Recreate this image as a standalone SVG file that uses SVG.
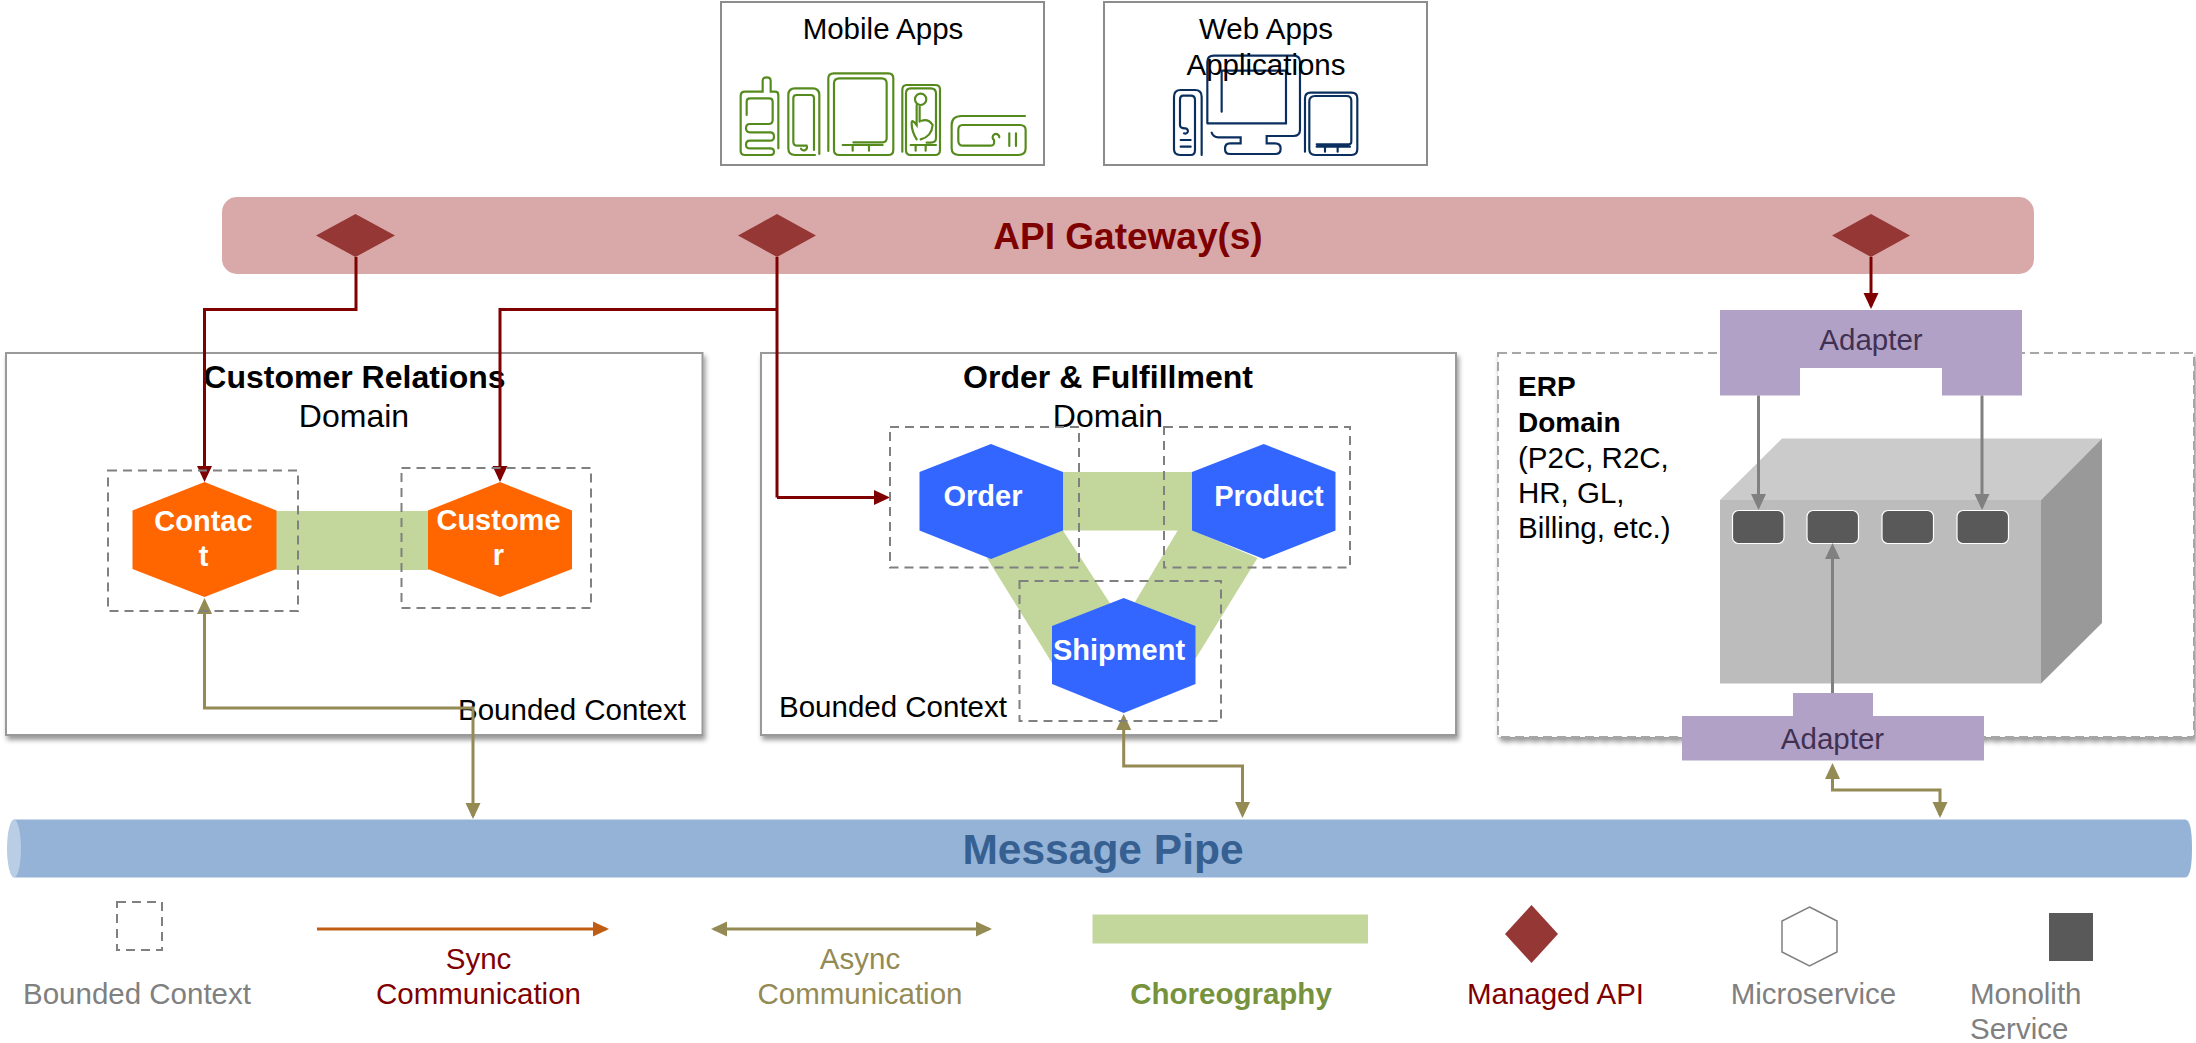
<svg xmlns="http://www.w3.org/2000/svg" width="2196" height="1043" viewBox="0 0 2196 1043">
<style>
text{font-family:"Liberation Sans",Arial,sans-serif;font-size:29.500px;fill:#000}
.m{text-anchor:middle}
.b{font-weight:bold}
.t{font-size:32px}
.e{font-size:28px;font-weight:bold}
.w{fill:#fff;font-weight:bold;text-anchor:middle;font-size:29px}
.g{fill:#808080}
.dom{fill:#fff;stroke:#999;stroke-width:2;filter:url(#sh)}
.app{fill:#fff;stroke:#8c8c8c;stroke-width:2}
.dash{fill:none;stroke:#808080;stroke-width:2;stroke-dasharray:9 6}
.o{fill:#ff6600}.bl{fill:#3366ff}.ch{fill:#c3d69b}.dia{fill:#953735}.ad{fill:#b2a1c7}
.adt{fill:#403152;text-anchor:middle}
.red{fill:none;stroke:#7f0000;stroke-width:3;marker-end:url(#ar)}
.red0{fill:none;stroke:#7f0000;stroke-width:3}
.ol{fill:none;stroke:#948a54;stroke-width:3;marker-end:url(#ao);marker-start:url(#ao)}
.gr{fill:none;stroke:#808080;stroke-width:3;marker-end:url(#ag)}
.port{fill:#595959;stroke:#fff;stroke-width:1.200}
.ig{fill:none;stroke:#558a1c;stroke-width:6.500;stroke-linecap:round}
.ib{fill:none;stroke:#0a2f5f;stroke-width:6.500;stroke-linecap:round}
</style>
<defs>
<filter id="sh" x="-3%" y="-3%" width="106%" height="106%"><feDropShadow dx="2" dy="4" stdDeviation="2.500" flood-color="#000" flood-opacity="0.4"/></filter>
<marker id="ar" markerUnits="userSpaceOnUse" markerWidth="17" markerHeight="16" refX="13" refY="8" orient="auto"><path d="M0 0.500L16 8L0 15.500z" fill="#7f0000"/></marker>
<marker id="ao" markerUnits="userSpaceOnUse" markerWidth="17" markerHeight="16" refX="13" refY="8" orient="auto-start-reverse"><path d="M0 0.500L16 8L0 15.500z" fill="#948a54"/></marker>
<marker id="ag" markerUnits="userSpaceOnUse" markerWidth="17" markerHeight="16" refX="13" refY="8" orient="auto"><path d="M0 0.500L16 8L0 15.500z" fill="#808080"/></marker>
<marker id="as" markerUnits="userSpaceOnUse" markerWidth="17" markerHeight="16" refX="13" refY="8" orient="auto"><path d="M0 0.500L16 8L0 15.500z" fill="#bf5e12"/></marker>
</defs>

<g id="mobile-apps">
<rect class="app" x="721" y="2" width="323" height="163"/>
<text class="m" x="883" y="39">Mobile Apps</text>
<g transform="translate(720 50) scale(.3333)" class="ig">
<path d="M175 295L175 135Q175 125 165 125L152 125L152 92Q152 82 140 82Q128 82 128 92L128 125L75 125Q62 125 62 138L62 303Q62 315 75 315L150 315Q162 315 162 305Q162 295 150 295L90 295Q78 295 78 284Q78 272 90 272L150 272Q162 272 162 260Q162 247 150 247L90 247Q78 247 78 235Q78 222 90 222L146 222Q158 222 158 210L158 155Q158 145 148 145L90 145Q80 145 80 155L80 195"/>
<path d="M298 312L298 135Q298 115 278 115L225 115Q205 115 205 135L205 295Q205 315 225 315L285 315"/>
<path d="M220 275L220 145Q220 135 230 135L272 135Q282 135 282 145L282 300M220 275Q220 287 232 287L260 287A9 9 0 1 1 243 296"/>
<path d="M325 303L325 85Q325 70 342 70L505 70Q520 70 520 85L520 300Q520 315 505 315L358 315Q342 315 342 300L342 100Q342 85 358 85L485 85Q500 85 500 100L500 265Q500 277 488 277L400 277M368 285L488 285M398 285L398 302M447 285L447 302"/>
<path d="M547 305L547 120Q547 105 560 105L645 105Q660 105 660 118L660 300Q660 315 645 315L572 315Q558 315 558 300L558 130Q558 115 572 115L632 115Q648 115 648 130L648 265Q648 278 632 278L620 278M572 285L648 285M587 285L587 302M617 285L617 302"/>
<circle cx="602" cy="148" r="17"/>
<path d="M590 165L590 225Q575 205 575 220Q575 245 590 268M599 170L599 215M602 268Q635 260 638 225Q625 205 605 212"/>
<path d="M915 198L725 198Q695 198 695 225L695 295Q695 315 718 315L895 315Q917 315 917 295L917 240Q917 225 900 225L728 225Q715 225 715 240L715 272Q715 287 730 287L812 287Q825 287 822 270A10 10 0 1 1 838 262M868 250L868 288M888 250L888 288"/>
</g>
</g>

<g id="web-apps">
<rect class="app" x="1104" y="2" width="323" height="163"/>
<text class="m" x="1266" y="39">Web Apps</text>
<g transform="translate(1150 50) scale(.3333)" class="ib">
<path d="M155 315L155 140Q155 120 135 120L92 120Q72 120 72 140L72 298Q72 315 90 315L122 315Q135 315 135 300L135 150Q135 137 122 137L100 137Q90 137 90 150L90 225Q90 235 105 235A8 8 0 1 1 102 250M92 270L122 270M92 290L122 290"/>
<path d="M172 220L172 35Q172 17 192 17L430 17Q450 17 450 35L450 240Q450 258 430 258L350 258L350 280L375 280Q392 280 392 296Q392 312 375 312L240 312Q225 312 225 296Q225 280 240 280L272 280L272 262L205 262Q190 262 185 248M172 220L408 220L408 62L215 62L215 185"/>
<path d="M465 305L465 145Q465 128 482 128L605 128Q622 128 622 145L622 298Q622 315 605 315L495 315Q478 315 478 298L478 155Q478 138 495 138L590 138Q604 138 604 152L604 275Q604 283 595 283L500 283M500 290L600 290M525 292L525 305M563 292L563 305"/>
</g>
<text class="m" x="1266" y="75">Applications</text>
</g>

<g id="api-gateway">
<rect x="222" y="197" width="1812" height="77" rx="15" fill="#d9a9a9"/>
<text class="m b" x="1128" y="249" style="font-size:37px;fill:#7f0000">API Gateway(s)</text>
<path class="dia" d="M316 235.500L355.500 214L395 235.500L355.500 257z"/>
<path class="dia" d="M738 235.500L777 214L816 235.500L777 257z"/>
<path class="dia" d="M1832 235.500L1871 214L1910 235.500L1871 257z"/>
</g>

<g id="domain-customer-relations">
<rect class="dom" x="6" y="353" width="696.500" height="382"/>
<text class="m b t" x="354.500" y="388">Customer Relations</text>
<text class="m t" x="354" y="427">Domain</text>
<text x="458" y="720">Bounded Context</text>
</g>
<g id="domain-order-fulfillment">
<rect class="dom" x="761" y="353" width="695" height="382"/>
<text class="m b t" x="1108" y="387.500">Order &amp; Fulfillment</text>
<text class="m t" x="1108" y="426.500">Domain</text>
<text x="779" y="717">Bounded Context</text>
</g>
<g id="domain-erp">
<rect x="1498" y="353" width="696" height="384" fill="#fff" stroke="#a6a6a6" stroke-width="2" stroke-dasharray="9 5" filter="url(#sh)"/>
<text class="e" x="1518" y="396">ERP</text>
<text class="e" x="1518" y="432">Domain</text>
<text x="1518" y="467.500">(P2C, R2C,</text>
<text x="1518" y="503">HR, GL,</text>
<text x="1518" y="538">Billing, etc.)</text>
</g>

<g id="monolith">
<path d="M1720 500L1782 438.500L2102 438.500L2041 500z" fill="#cbcbcb"/>
<rect x="1720" y="500" width="321" height="183.500" fill="#bcbcbc"/>
<path d="M2041 500L2102 438.500L2102 623L2041 683.500z" fill="#999"/>
<rect class="port" x="1732.500" y="510.500" width="51.500" height="33" rx="6"/>
<rect class="port" x="1807" y="510.500" width="51.500" height="33" rx="6"/>
<rect class="port" x="1882" y="510.500" width="51.500" height="33" rx="6"/>
<rect class="port" x="1957" y="510.500" width="51.500" height="33" rx="6"/>
</g>

<g id="choreography">
<rect class="ch" x="276" y="511" width="153" height="59"/>
<rect class="ch" x="1062" y="472" width="131" height="58.500"/>
<path class="ch" d="M1063 530.500L1109.500 602.500L1124 660L1052 663L987 558z"/>
<path class="ch" d="M1178 530L1135 602L1124 660L1196 658L1257.500 558L1192 530z"/>
</g>

<g id="adapter-top">
<path class="ad" d="M1720 310L2022 310L2022 395.500L1942 395.500L1942 368L1800 368L1800 395.500L1720 395.500z"/>
<text class="adt" x="1871" y="349.500">Adapter</text>
</g>
<g id="adapter-bottom">
<path class="ad" d="M1793 693L1873 693L1873 716L1984 716L1984 760.500L1682 760.500L1682 716L1793 716z"/>
<text class="adt" x="1832.500" y="748.500">Adapter</text>
</g>

<g id="message-pipe">
<path d="M14 819.500L2185 819.500Q2192 819.500 2192 848.500Q2192 877.500 2185 877.500L14 877.500z" fill="#95b3d7"/>
<ellipse cx="14" cy="848.500" rx="7" ry="29" fill="#b9cde5"/>
<text class="m b" x="1103" y="864" style="font-size:42.500px;fill:#366092">Message Pipe</text>
</g>

<g id="connectors">
<path class="red" d="M356 257L356 309.500L204.500 309.500L204.500 479"/>
<path class="red0" d="M777 257L777 497.500"/>
<path class="red" d="M777 309.500L500 309.500L500 479"/>
<path class="red" d="M777 497.500L887 497.500"/>
<path class="red" d="M1871 257L1871 306"/>
<path class="ol" d="M204.500 601L204.500 708L473 708L473 816"/>
<path class="ol" d="M1123.700 717L1123.700 766L1242.500 766L1242.500 815"/>
<path class="ol" d="M1832.500 766L1832.500 790L1940 790L1940 815"/>
<path class="gr" d="M1758.500 395.500L1758.500 507"/>
<path class="gr" d="M1982 395.500L1982 507"/>
<path class="gr" d="M1832.500 693L1832.500 546"/>
</g>

<g id="ctx-contact"><rect class="dash" x="108" y="470.500" width="190" height="140.500"/></g>
<g id="ctx-customer"><rect class="dash" x="401.500" y="468" width="189.500" height="140"/></g>
<g id="ctx-order"><rect class="dash" x="890" y="427" width="189" height="140.500"/></g>
<g id="ctx-product"><rect class="dash" x="1164" y="427" width="186" height="140.500"/></g>
<g id="ctx-shipment"><rect class="dash" x="1019.500" y="581" width="201.500" height="140"/></g>

<g id="contact">
<path class="o" d="M204.500 482L276.500 510.500L276.500 569L204.500 597L132.500 569L132.500 510.500z"/>
<text class="w" x="203.500" y="531">Contac</text><text class="w" x="203.500" y="566">t</text>
</g>
<g id="customer">
<path class="o" d="M500 482L572 510.500L572 569L500 597L428 569L428 510.500z"/>
<text class="w" x="498.500" y="530">Custome</text><text class="w" x="498.500" y="565">r</text>
</g>
<g id="order">
<path class="bl" d="M991 444L1063 472L1063 530.500L991 559L919.500 530.500L919.500 472z"/>
<text class="w" x="983" y="505.500">Order</text>
</g>
<g id="product">
<path class="bl" d="M1263.700 444L1335.500 472L1335.500 530.500L1263.700 559L1192 530.500L1192 472z"/>
<text class="w" x="1269" y="505.500">Product</text>
</g>
<g id="shipment">
<path class="bl" d="M1123.700 598L1195.500 626L1195.500 684L1123.700 713L1052 684L1052 626z"/>
<text class="w" x="1119" y="659.500">Shipment</text>
</g>

<g id="legend">
<g id="legend-bounded-context">
<rect class="dash" x="117" y="902" width="45" height="48"/>
<text class="m g" x="137" y="1003.500">Bounded Context</text>
</g>
<g id="legend-sync">
<path d="M317 929L606 929" fill="none" stroke="#bf5e12" stroke-width="3" marker-end="url(#as)"/>
<text class="m" x="478.500" y="969" style="fill:#7f0000">Sync</text>
<text class="m" x="478.500" y="1003.500" style="fill:#7f0000">Communication</text>
</g>
<g id="legend-async">
<path class="ol" d="M714 929L989 929"/>
<text class="m" x="860" y="969" style="fill:#948a54">Async</text>
<text class="m" x="860" y="1003.500" style="fill:#948a54">Communication</text>
</g>
<g id="legend-choreography">
<rect class="ch" x="1092.500" y="914.500" width="275.500" height="29"/>
<text class="m b" x="1231" y="1003.500" style="fill:#76923c">Choreography</text>
</g>
<g id="legend-managed-api">
<path class="dia" d="M1505 934L1531.500 905L1558 934L1531.500 963z"/>
<text class="m" x="1555.500" y="1003.500" style="fill:#7f0000">Managed API</text>
</g>
<g id="legend-microservice">
<path d="M1809.500 907L1837 921L1837 952L1809.500 966L1782 952L1782 921z" fill="#fff" stroke="#808080" stroke-width="1.500"/>
<text class="m g" x="1813.500" y="1003.500">Microservice</text>
</g>
<g id="legend-monolith">
<rect x="2049" y="913" width="44" height="48" fill="#595959"/>
<text class="g" x="1970" y="1003.500">Monolith</text>
<text class="g" x="1970" y="1039">Service</text>
</g>
</g>
</svg>
